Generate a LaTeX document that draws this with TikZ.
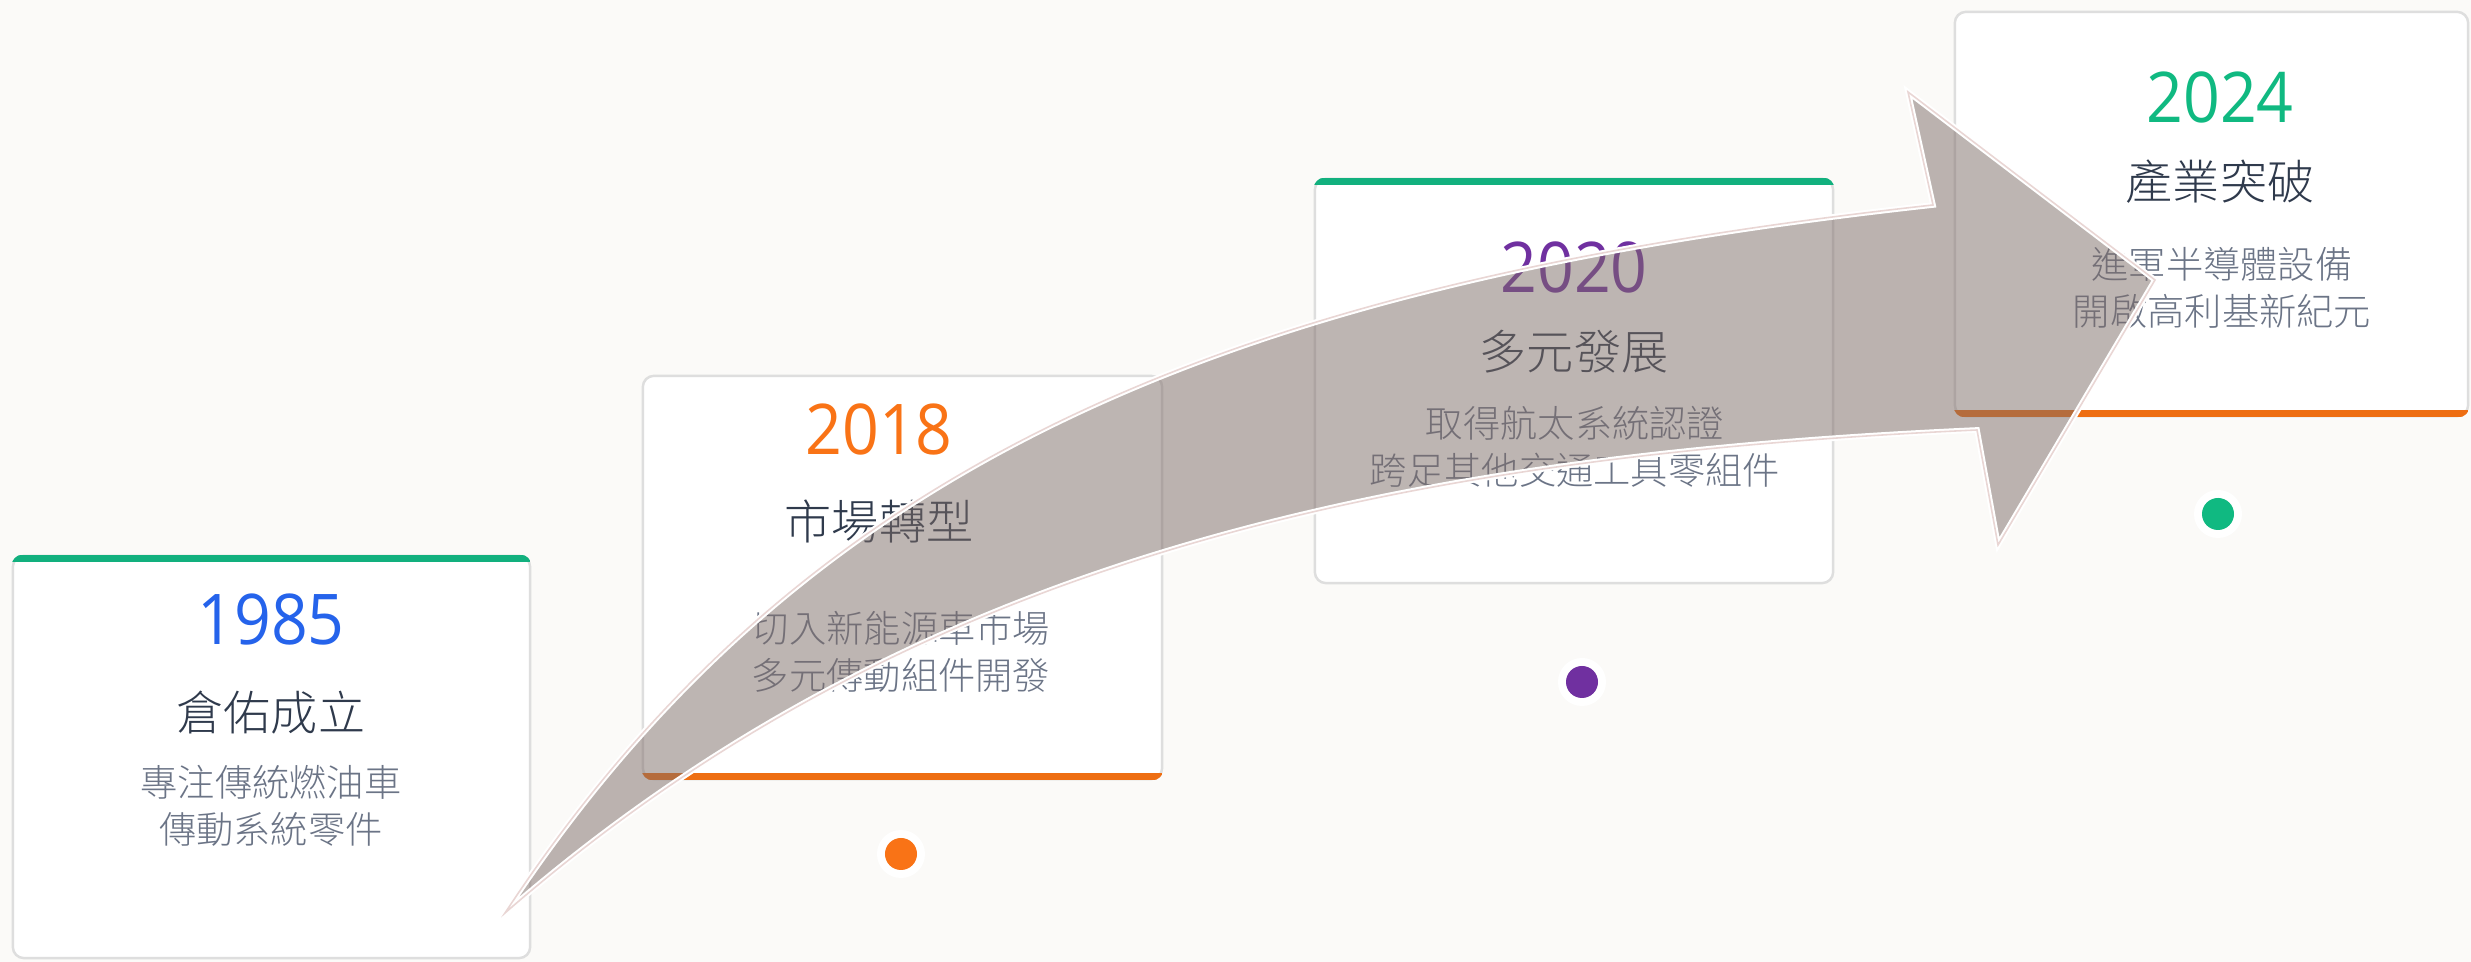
\documentclass[tikz,border=0pt]{standalone}
\usepackage{fontspec}
\IfFontExistsTF{Noto Sans CJK TC Light}
  {\newfontfamily\cjk{Noto Sans CJK TC Light}}
  {\newfontfamily\cjk{Noto Sans CJK TC}}
\newfontfamily\yearfont[FakeStretch=0.92]{Open Sans}
\definecolor{bgc}{HTML}{FBFAF8}
\definecolor{blueyr}{HTML}{2563EB}
\definecolor{orangeyr}{HTML}{F97316}
\definecolor{purpleyr}{HTML}{7030A0}
\definecolor{greenyr}{HTML}{10B981}
\definecolor{greenbar}{HTML}{12B07E}
\definecolor{orangebar}{HTML}{EE6E12}
\definecolor{headc}{HTML}{2F3A4C}
\definecolor{subc}{HTML}{6B7486}
\definecolor{arrowc}{RGB}{125,108,103}
\definecolor{edgec}{HTML}{E9D6D4}
\tikzset{
  card/.style={fill=white, draw=black!13, line width=0.7pt, rounded corners=0.11cm, inner sep=0pt},
  yeartxt/.style={font=\yearfont\fontsize{19.9pt}{22pt}\selectfont, inner sep=0pt},
  headtxt/.style={font=\cjk\fontsize{13.4pt}{16pt}\selectfont, text=headc, inner sep=0pt},
  subtxt/.style={font=\cjk\fontsize{10.6pt}{13.5pt}\selectfont, text=subc, align=center, inner sep=0pt},
  halo/.style={circle, fill=white, minimum size=0.48cm, inner sep=0pt},
  dotc/.style={circle, minimum size=0.32cm, inner sep=0pt},
  bigarrow/.style={fill=arrowc, fill opacity=0.5, draw=white, line width=1.6pt, line join=miter},
  arrowedge/.style={draw=edgec, line width=0.45pt, line join=miter}
}
\begin{document}
\begin{tikzpicture}[x=0.01cm, y=-0.01cm]
\fill[bgc] (0,0) rectangle (2471,962);
\useasboundingbox (0,0) rectangle (2471,962);

% cards
\node[card, minimum width=5.17cm, minimum height=4.02cm] (c1) at (271.5,757) {};
\node[card, minimum width=5.19cm, minimum height=4.03cm] (c2) at (902.5,577.5) {};
\node[card, minimum width=5.18cm, minimum height=4.04cm] (c3) at (1574,381) {};
\node[card, minimum width=5.13cm, minimum height=4.04cm] (c4) at (2211.5,214) {};

% colour bars
\begin{scope}
  \clip[rounded corners=0.11cm] (c1.south west) rectangle (c1.north east);
  \fill[greenbar] (c1.north west) rectangle ([yshift=-0.075cm]c1.north east);
\end{scope}
\begin{scope}
  \clip[rounded corners=0.11cm] (c3.south west) rectangle (c3.north east);
  \fill[greenbar] (c3.north west) rectangle ([yshift=-0.075cm]c3.north east);
\end{scope}
\begin{scope}
  \clip[rounded corners=0.11cm] (c2.south west) rectangle (c2.north east);
  \fill[orangebar] ([yshift=0.075cm]c2.south west) rectangle (c2.south east);
\end{scope}
\begin{scope}
  \clip[rounded corners=0.11cm] (c4.south west) rectangle (c4.north east);
  \fill[orangebar] ([yshift=0.075cm]c4.south west) rectangle (c4.south east);
\end{scope}

% texts
\node[yeartxt, text=blueyr] (y1) at (271,620) {1985};
\node[headtxt] (h1) at (271,713) {倉佑成立};
\node[subtxt] (s1) at (271,806) {專注傳統燃油車\\傳動系統零件};

\node[yeartxt, text=orangeyr] (y2) at (879,429) {2018};
\node[headtxt] (h2) at (879,522) {市場轉型};
\node[subtxt] (s2) at (901,652) {切入新能源車市場\\多元傳動組件開發};

\node[yeartxt, text=purpleyr] (y3) at (1574,267) {2020};
\node[headtxt] (h3) at (1574,352) {多元發展};
\node[subtxt] (s3) at (1575,447) {取得航太系統認證\\跨足其他交通工具零組件};

\node[yeartxt, text=greenyr] (y4) at (2220,97) {2024};
\node[headtxt] (h4) at (2220,182) {產業突破};
\node[subtxt] (s4) at (2222,288) {進軍半導體設備\\開啟高利基新紀元};

% dots
\node[halo] (d2h) at (901,854) {};
\node[dotc, fill=orangeyr] (d2) at (901,854) {};
\node[halo] (d3h) at (1582,682) {};
\node[dotc, fill=purpleyr] (d3) at (1582,682) {};
\node[halo] (d4h) at (2218,514) {};
\node[dotc, fill=greenyr] (d4) at (2218,514) {};

% big curved arrow
\coordinate (tail) at (505,913);
\coordinate (un) at (1933,205);
\coordinate (ub) at (1908,92);
\coordinate (tip) at (2155,280);
\coordinate (lb) at (1998,545);
\coordinate (ln) at (1977,430);
\path[bigarrow] (tail) .. controls (805,457) and (1233,282) .. (un) -- (ub) -- (tip) -- (lb) -- (ln)
   .. controls (1377,457) and (905,565) .. (tail) -- cycle;
\path[arrowedge] (tail) .. controls (805,457) and (1233,282) .. (un) -- (ub) -- (tip) -- (lb) -- (ln)
   .. controls (1377,457) and (905,565) .. (tail) -- cycle;
\end{tikzpicture}
\end{document}
